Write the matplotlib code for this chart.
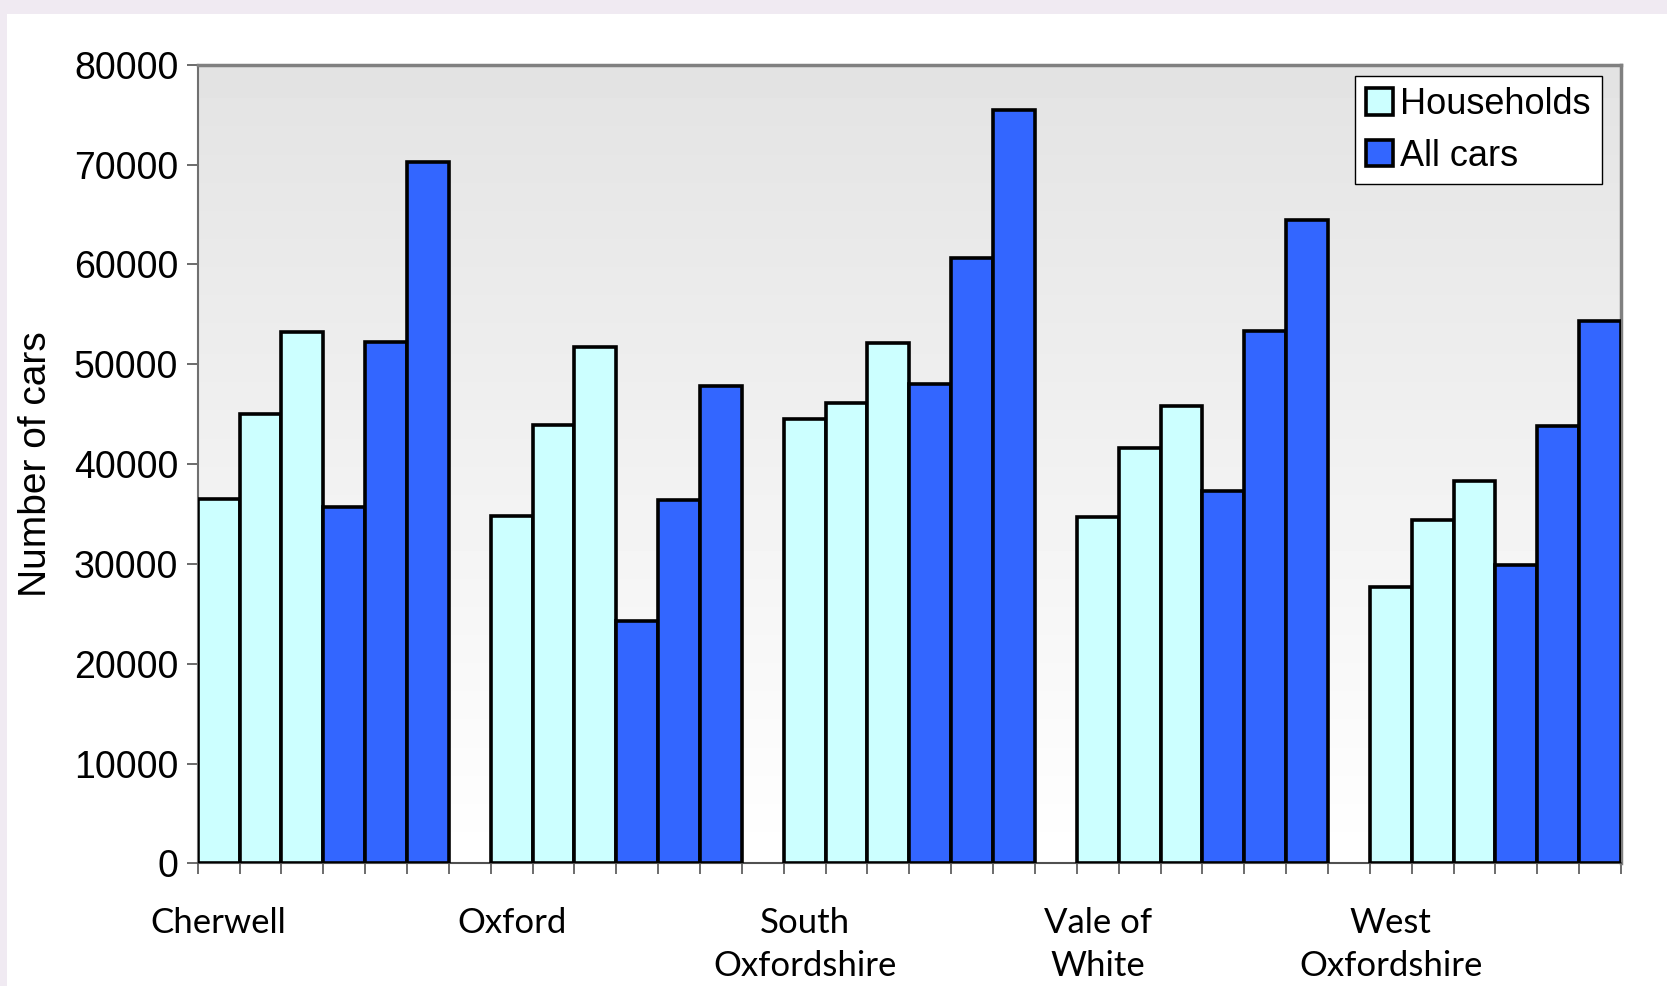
import numpy as np
import matplotlib
matplotlib.use('Agg')
import matplotlib.pyplot as plt
from matplotlib.patches import Rectangle, Patch

districts = ['Cherwell', 'Oxford', 'South\nOxfordshire', 'Vale of\nWhite', 'West\nOxfordshire']
households = [
    [36500, 45000, 53200],
    [34800, 43900, 51700],
    [44500, 46100, 52100],
    [34700, 41600, 45800],
    [27700, 34400, 38300],
]
all_cars = [
    [35700, 52200, 70300],
    [24300, 36400, 47800],
    [48000, 60700, 75500],
    [37300, 53300, 64500],
    [29900, 43800, 54300],
]

HH_COLOR = '#ccffff'
CAR_COLOR = '#3366ff'

plt.rcParams['font.family'] = ['Liberation Sans', 'DejaVu Sans']

fig = plt.figure(figsize=(16.67, 9.86), dpi=100)
fig.patch.set_facecolor('#f0eaf2')
fig.patches.append(Rectangle((0.004, 0), 1, 0.986, transform=fig.transFigure,
                             facecolor='white', edgecolor='none', zorder=-10))
ax = fig.add_axes([0.1186, 0.1244, 0.9724 - 0.1186, 0.9342 - 0.1244])

# each district takes 6 slots, then one empty slot
n_slots = len(districts) * 7 - 1
first_bar = []
for g in range(len(districts)):
    start = g * 7
    first_bar.append(start + 0.5)
    vals = households[g] + all_cars[g]
    cols = [HH_COLOR] * 3 + [CAR_COLOR] * 3
    ax.bar(np.arange(start, start + 6) + 0.5, vals, width=1.0, color=cols,
           edgecolor='black', linewidth=2.6, zorder=3)

# grey-to-white background gradient (grey at the top)
grad = np.linspace(0.89, 1.0, 256).reshape(-1, 1)
ax.imshow(grad, cmap='gray', vmin=0, vmax=1, aspect='auto', origin='upper',
          extent=(0, n_slots, 0, 80000), zorder=0)
ax.set_xlim(0, n_slots)
ax.set_ylim(0, 80000)

ax.set_yticks(np.arange(0, 80001, 10000))
ax.set_yticklabels([str(v) for v in range(0, 80001, 10000)], fontsize=27)
ax.set_xticks(np.arange(0, n_slots + 1))
ax.set_xticklabels([])
ax.tick_params(axis='both', direction='out', color='#606060', width=1.3)
ax.tick_params(axis='x', length=8)
ax.tick_params(axis='y', length=8, pad=6)

for g, name in enumerate(districts):
    ax.text(first_bar[g], -0.055, name, transform=ax.get_xaxis_transform(),
            ha='center', va='top', fontsize=25, family=['Lato', 'DejaVu Sans'],
            linespacing=1.4)

for side in ['top', 'right']:
    ax.spines[side].set_color('#808080')
    ax.spines[side].set_linewidth(2.5)
ax.spines['left'].set_color('#707070')
ax.spines['left'].set_linewidth(1.5)
ax.spines['bottom'].set_color('#505050')
ax.spines['bottom'].set_linewidth(1.5)

ax.set_ylabel('Number of cars', fontsize=28, labelpad=14)

handles = [Patch(facecolor=HH_COLOR, edgecolor='black', linewidth=2.6, label='Households'),
           Patch(facecolor=CAR_COLOR, edgecolor='black', linewidth=2.6, label='All cars')]
leg = ax.legend(handles=handles, loc='upper right', bbox_to_anchor=(0.9865, 0.9855),
                fontsize=26, frameon=True, fancybox=False, framealpha=1,
                edgecolor='black', handlelength=0.75, handleheight=0.75,
                handletextpad=0.2, borderpad=0.3, labelspacing=0.45,
                borderaxespad=0)
leg.get_frame().set_linewidth(1.0)

fig.savefig('out.png', dpi=100)
